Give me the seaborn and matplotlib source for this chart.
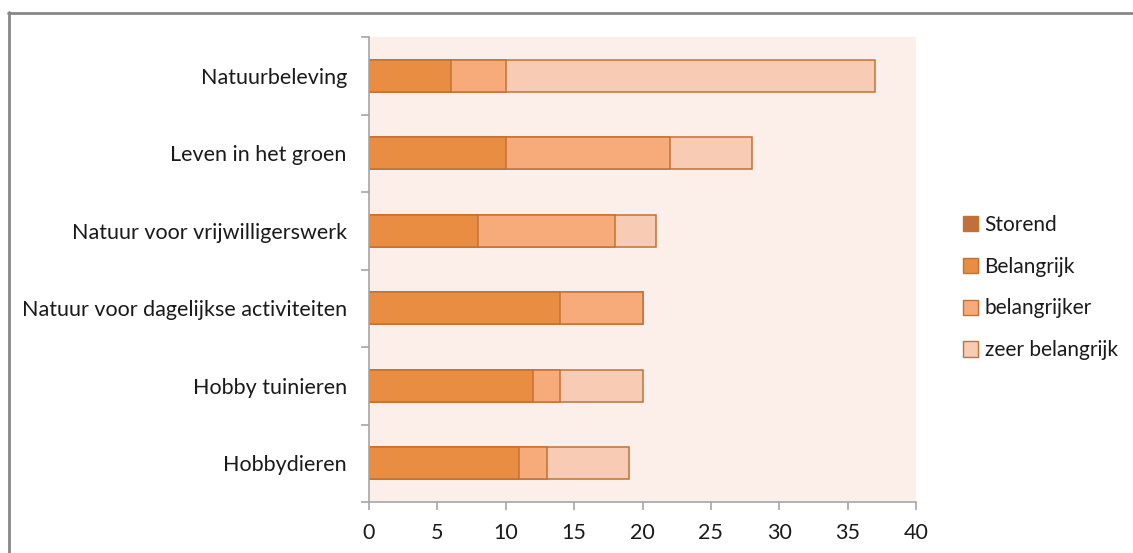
import matplotlib
matplotlib.use("Agg")
import matplotlib.pyplot as plt
import seaborn as sns
import numpy as np
import pandas as pd
from matplotlib.patches import Patch
from matplotlib.lines import Line2D

categories = ["Natuurbeleving", "Leven in het groen", "Natuur voor vrijwilligerswerk",
              "Natuur voor dagelijkse activiteiten", "Hobby tuinieren", "Hobbydieren"]
storend = [0, 0, 0, 0, 0, 0]
belangrijk = [6, 10, 8, 14, 12, 11]
belangrijker = [4, 12, 10, 6, 2, 2]
zeer_belangrijk = [27, 6, 3, 0, 6, 6]
series_names = ["Storend", "Belangrijk", "belangrijker", "zeer belangrijk"]
x_ticks = [0, 5, 10, 15, 20, 25, 30, 35, 40]

colors = ["#C0703A", "#E88D41", "#F7AA7A", "#F8CBB4"]
edge = "#C27236"

sns.set_theme(style="white")
plt.rcParams['font.family'] = ['Lato', 'DejaVu Sans']

fig = plt.figure(figsize=(11.33, 5.53), dpi=100)
ax = fig.add_axes([369/1133, 1-502/553, (916-369)/1133, (502-37)/553])
ax.set_facecolor("#FCEEE9")

layers = [storend, belangrijk, belangrijker, zeer_belangrijk]
cums = np.cumsum(np.array(layers, dtype=float), axis=0)
# draw from back (largest cumulative) to front
for i in range(3, -1, -1):
    df = pd.DataFrame({"cat": categories, "val": cums[i]})
    sns.barplot(data=df, x="val", y="cat", orient="h", color=colors[i],
                saturation=1, width=0.41, edgecolor=edge, linewidth=1.1, ax=ax)

ax.set_xlim(0, 40)
ax.set_ylim(5.5, -0.5)
ax.set_xticks(x_ticks)
ax.set_xticklabels([str(t) for t in x_ticks])
ax.set_xlabel("")
ax.set_ylabel("")
for s in ["top", "right"]:
    ax.spines[s].set_visible(False)
for s in ["left", "bottom"]:
    ax.spines[s].set_color("#A6A6A6")
    ax.spines[s].set_linewidth(1.2)
ax.tick_params(axis="x", length=6, color="#A6A6A6", width=1.2, labelsize=15.5,
               labelcolor="#1a1a1a", pad=9, bottom=True)
ax.tick_params(axis="y", which="major", length=0, labelsize=15.5, labelcolor="#1a1a1a", pad=16)
ax.set_yticks(np.arange(-0.5, 6.0, 1.0), minor=True)
ax.tick_params(axis="y", which="minor", length=6, color="#A6A6A6", width=1.2, left=True)

handles = [Patch(facecolor=colors[i], edgecolor=edge, linewidth=1.0, label=series_names[i])
           for i in range(4)]
fig.legend(handles=handles, loc="upper left", bbox_to_anchor=(944/1133, 1-196/553),
           frameon=False, fontsize=15, labelspacing=1.05, handlelength=0.75,
           handleheight=0.75, handletextpad=0.3, labelcolor="#1a1a1a")

fig.add_artist(Line2D([8.5/1133, 8.5/1133], [0, 1-12/553], color="#878787", lw=2,
                      transform=fig.transFigure))
fig.add_artist(Line2D([8/1133, 1], [1-12.5/553, 1-12.5/553], color="#878787", lw=2,
                      transform=fig.transFigure))

fig.savefig("out.png", dpi=100)
